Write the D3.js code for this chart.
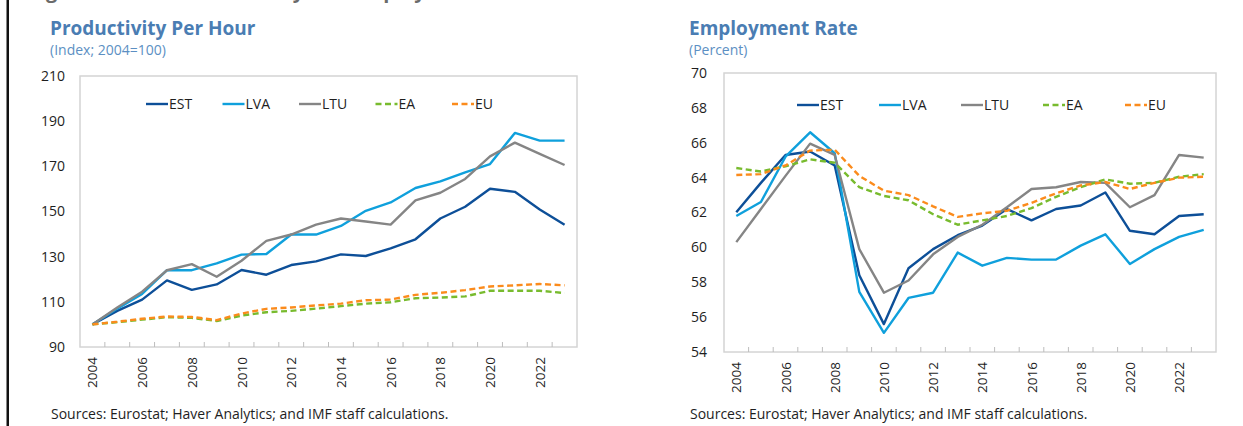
<!DOCTYPE html>
<html>
<head>
<meta charset="utf-8">
<script src="https://cdn.jsdelivr.net/npm/d3@7"></script>
<style>
  html, body { margin: 0; padding: 0; background: #ffffff; }
  svg { display: block; font-family: 'Open Sans', 'Noto Sans', sans-serif; }
</style>
</head>
<body>
<div id="viz"></div>
<script>
// ---- data ----
const years = d3.range(2004, 2024);
const yearTicks = [2004, 2006, 2008, 2010, 2012, 2014, 2016, 2018, 2020, 2022];
const seriesNames = ['EST', 'LVA', 'LTU', 'EA', 'EU'];

// Productivity per hour (index, 2004=100)
const prodEST = [100, 106, 111, 119.5, 115.3, 117.7, 124.1, 122, 126.3, 127.9, 131, 130.3, 133.7, 137.7, 146.9, 152.1, 160.1, 158.7, 150.9, 144.1];
const prodLVA = [100, 107, 113.5, 124, 124, 127, 130.9, 131.2, 139.8, 139.8, 143.6, 150.3, 154, 160.4, 163.3, 167.3, 171, 184.8, 181.4, 181.4];
const prodLTU = [100, 107.5, 114.5, 124, 126.7, 121.1, 128.2, 137, 139.8, 144.2, 146.9, 145.6, 144.2, 154.9, 158.3, 164.4, 174.4, 180.5, 175.5, 170.6];
const prodEA = [100, 101, 102.1, 103.2, 102.9, 101.5, 103.9, 105.4, 106, 107, 108.1, 109.2, 109.8, 111.6, 111.9, 112.4, 114.9, 114.9, 114.9, 113.9];
const prodEU = [100, 101.2, 102.5, 103.5, 103.3, 101.9, 104.8, 106.9, 107.5, 108.4, 109.2, 110.7, 111, 113.1, 114, 115.2, 116.8, 117.3, 117.9, 117.3];
const prodTicks = [90, 110, 130, 150, 170, 190, 210];

// Employment rate (percent)
const empEST = [62.02, 63.7, 65.3, 65.5, 64.7, 58.4, 55.6, 58.8, 59.9, 60.7, 61.25, 62.2, 61.55, 62.2, 62.4, 63.15, 60.95, 60.75, 61.8, 61.9];
const empLVA = [61.8, 62.6, 65.2, 66.6, 65.4, 57.45, 55.1, 57.1, 57.4, 59.7, 58.95, 59.4, 59.3, 59.3, 60.1, 60.75, 59.05, 59.9, 60.6, 61.0];
const empLTU = [60.3, 62.2, 64.1, 65.95, 65.3, 59.9, 57.4, 58.1, 59.6, 60.6, 61.3, 62.3, 63.35, 63.45, 63.75, 63.7, 62.3, 63.0, 65.3, 65.15];
const empEA = [64.55, 64.35, 64.65, 65.05, 64.85, 63.45, 62.95, 62.7, 61.9, 61.3, 61.55, 61.8, 62.25, 62.9, 63.45, 63.9, 63.65, 63.7, 64.05, 64.2];
const empEU = [64.15, 64.2, 64.7, 65.55, 65.6, 64.1, 63.25, 63.0, 62.35, 61.75, 61.95, 62.1, 62.55, 63.1, 63.55, 63.75, 63.35, 63.7, 64.0, 64.05];
const empTicks = [54, 56, 58, 60, 62, 64, 66, 68, 70];

const sourceNote = 'Sources: Eurostat; Haver Analytics; and IMF staff calculations.';

// ---- styles ----
const seriesStyle = {
  EST: { color: '#0d4f98', dash: null },
  LVA: { color: '#0fa0dc', dash: null },
  LTU: { color: '#858585', dash: null },
  EA: { color: '#78bb2e', dash: '6,3.5' },
  EU: { color: '#fb8b1c', dash: '6,3.5' },
};

const totalWidth = 1243;
const totalHeight = 426;

const svg = d3
  .select('#viz')
  .append('svg')
  .attr('width', totalWidth)
  .attr('height', totalHeight);

// frame edge on the left and the cut-off figure heading at the top
svg
  .append('rect')
  .attr('x', 6.5)
  .attr('y', 0)
  .attr('width', 2.5)
  .attr('height', totalHeight)
  .attr('fill', '#111111');

svg
  .append('text')
  .attr('x', 29)
  .attr('y', -2.5)
  .attr('font-size', 20)
  .attr('font-weight', 'bold')
  .attr('fill', '#6b6b6b')
  .text('Figure 2. Labor Productivity and Employment');

/**
 * Draws one line chart panel
 * @param cfg - panel layout, data and labels
 */
const drawPanel = (cfg) => {
  const { plot } = cfg;
  const width = plot.right - plot.left;
  const height = plot.bottom - plot.top;

  const g = svg
    .append('g')
    .attr('transform', `translate(${plot.left}, ${plot.top})`);

  const xScale = d3.scaleBand().domain(years).range([0, width]);
  const yScale = d3
    .scaleLinear()
    .domain([cfg.ticks[0], cfg.ticks[cfg.ticks.length - 1]])
    .range([height, 0]);

  // Title + subtitle
  svg
    .append('text')
    .attr('x', cfg.titleX)
    .attr('y', 35)
    .attr('font-size', 19)
    .attr('font-weight', 'bold')
    .attr('fill', '#4a7db3')
    .text(cfg.title);

  svg
    .append('text')
    .attr('x', cfg.titleX)
    .attr('y', 54.5)
    .attr('font-size', 14)
    .attr('fill', '#5c8fc3')
    .text(cfg.subtitle);

  // plot frame
  g.append('rect')
    .attr('x', 0)
    .attr('y', 0)
    .attr('width', width)
    .attr('height', height)
    .attr('fill', 'none')
    .attr('stroke', '#d4d4d4')
    .attr('stroke-width', 1.5);

  // y axis labels
  const yAxis = g
    .append('g')
    .call(d3.axisLeft(yScale).tickValues(cfg.ticks).tickSize(0).tickPadding(cfg.yPad));
  yAxis.select('.domain').remove();
  yAxis
    .selectAll('text')
    .attr('font-family', "'Open Sans', sans-serif")
    .attr('font-size', 14)
    .attr('fill', '#1e1e1e');

  // x axis: inner ticks at band edges
  g.append('g')
    .selectAll('line')
    .data(years.slice(1))
    .join('line')
    .attr('x1', (d) => xScale(d))
    .attr('x2', (d) => xScale(d))
    .attr('y1', height)
    .attr('y2', height - 5)
    .attr('stroke', '#bdbdbd')
    .attr('stroke-width', 1);

  g.append('g')
    .selectAll('text')
    .data(yearTicks)
    .join('text')
    .attr(
      'transform',
      (d) => `translate(${xScale(d) + xScale.bandwidth() / 2 + 5}, ${height + 10}) rotate(-90)`
    )
    .attr('text-anchor', 'end')
    .attr('font-size', 13.5)
    .attr('fill', '#1e1e1e')
    .text((d) => d);

  // lines
  const line = d3
    .line()
    .x((d, i) => xScale(years[i]) + xScale.bandwidth() / 2)
    .y((d) => yScale(d));

  seriesNames.forEach((name) => {
    g.append('path')
      .datum(cfg.series[name])
      .attr('fill', 'none')
      .attr('stroke', seriesStyle[name].color)
      .attr('stroke-width', 2.4)
      .attr('stroke-linejoin', 'round')
      .attr('stroke-dasharray', seriesStyle[name].dash)
      .attr('d', line);
  });

  // legend
  seriesNames.forEach((name, i) => {
    const lx = cfg.legendX + i * cfg.legendStep;
    svg
      .append('line')
      .attr('x1', lx)
      .attr('x2', lx + 22)
      .attr('y1', cfg.legendY)
      .attr('y2', cfg.legendY)
      .attr('stroke', seriesStyle[name].color)
      .attr('stroke-width', 2.4)
      .attr('stroke-dasharray', seriesStyle[name].dash);
    svg
      .append('text')
      .attr('x', lx + 23)
      .attr('y', cfg.legendY + 5)
      .attr('font-size', 14)
      .attr('fill', '#1e1e1e')
      .text(name);
  });

  // source note
  svg
    .append('text')
    .attr('x', cfg.titleX + 1)
    .attr('y', 419)
    .attr('font-size', 14)
    .attr('fill', '#1e1e1e')
    .text(sourceNote);
};

drawPanel({
  title: 'Productivity Per Hour',
  subtitle: '(Index; 2004=100)',
  titleX: 50,
  plot: { left: 80, right: 577, top: 76, bottom: 347 },
  ticks: prodTicks,
  yPad: 15,
  series: { EST: prodEST, LVA: prodLVA, LTU: prodLTU, EA: prodEA, EU: prodEU },
  legendX: 146,
  legendY: 104,
  legendStep: 76.5,
});

drawPanel({
  title: 'Employment Rate',
  subtitle: '(Percent)',
  titleX: 689,
  plot: { left: 724, right: 1216, top: 73, bottom: 352 },
  ticks: empTicks,
  yPad: 17,
  series: { EST: empEST, LVA: empLVA, LTU: empLTU, EA: empEA, EU: empEU },
  legendX: 797,
  legendY: 105,
  legendStep: 82,
});
</script>
</body>
</html>
